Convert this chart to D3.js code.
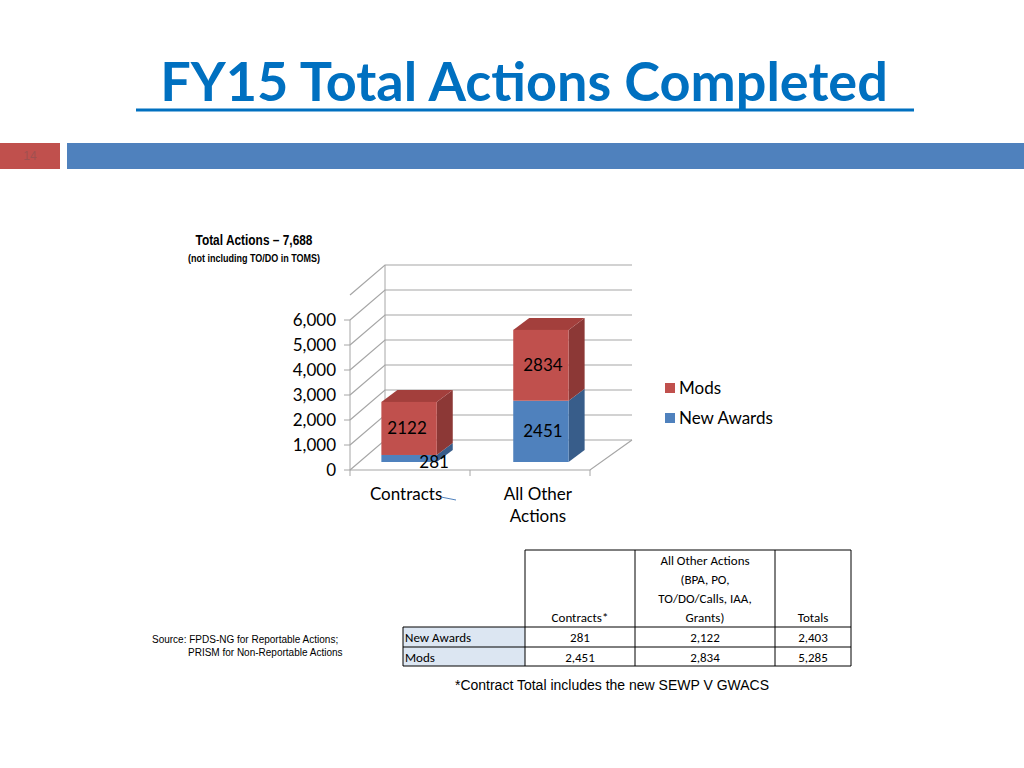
<!DOCTYPE html>
<html><head><meta charset="utf-8">
<script src="https://cdn.jsdelivr.net/npm/d3@7"></script>
<style>body{margin:0;background:#fff}</style>
</head><body>
<svg id="c" width="1024" height="768"></svg>
<script>
const categories = ["Contracts", "All Other\nActions"];
const newAwards = [281, 2451];
const mods = [2122, 2834];
const yTicks = [0, 1000, 2000, 3000, 4000, 5000, 6000];
const seriesNames = ["Mods", "New Awards"];
const tableHeaders = ["Contracts*", "All Other Actions\n(BPA, PO,\nTO/DO/Calls, IAA,\nGrants)", "Totals"];
const tableRows = [["New Awards", "281", "2,122", "2,403"], ["Mods", "2,451", "2,834", "5,285"]];

const svg = d3.select("#c");
const font = "'Gill Sans MT', Lato, 'Open Sans', sans-serif";

// title and banner
svg.append("text").attr("x", 524).attr("y", 101).attr("text-anchor", "middle")
  .attr("font-family", "Lato, sans-serif").attr("font-weight", 700).attr("font-size", 54)
  .attr("fill", "#0070c0").text("FY15 Total Actions Completed");
svg.append("line").attr("x1", 136).attr("x2", 914).attr("y1", 110).attr("y2", 110)
  .attr("stroke", "#0070c0").attr("stroke-width", 3);
svg.append("rect").attr("x", 0).attr("y", 143).attr("width", 60).attr("height", 26).attr("fill", "#c0504d");
svg.append("rect").attr("x", 67).attr("y", 143).attr("width", 957).attr("height", 26).attr("fill", "#4f81bd");
svg.append("text").attr("x", 30).attr("y", 160).attr("text-anchor", "middle").attr("font-size", 12)
  .attr("font-family", "Arial").attr("fill", "#a05050").text("14");

// chart subtitle
svg.append("text").attr("x", 254).attr("y", 245).attr("text-anchor", "middle").attr("font-family", "'Liberation Sans Narrow', Arial")
  .attr("font-weight", 700).attr("font-size", 14).attr("transform", "translate(254,245) scale(0.85,1) translate(-254,-245)")
  .text("Total Actions \u2013 7,688");
svg.append("text").attr("x", 254).attr("y", 262).attr("text-anchor", "middle").attr("font-family", "Arial")
  .attr("font-weight", 700).attr("font-size", 10).attr("transform", "translate(254,262) scale(0.9,1) translate(-254,-262)")
  .text("(not including TO/DO in TOMS)");

const y = d3.scaleLinear().domain([0, 6000]).range([470, 320]);
const x = d3.scaleBand().domain(categories).range([350, 590]).paddingInner(0.58).paddingOuter(0.2);
const dx = 35, dy = -30, bdx = 16, bdy = -12;
const g = svg.append("g");

// back wall gridlines and side wall
const gridVals = yTicks.concat([7000]);
gridVals.forEach(v => {
  const yy = y(v);
  g.append("path").attr("d", `M350,${yy}L${350+dx},${yy+dy}L632,${yy+dy}`)
    .attr("fill", "none").attr("stroke", "#a6a6a6").attr("stroke-width", 1.2);
});
g.append("path").attr("d", `M${350+dx},${y(0)+dy}L${350+dx},${y(7000)+dy}`).attr("stroke", "#a6a6a6").attr("fill", "none");
// floor
g.append("path").attr("d", `M350,${y(0)}L590,${y(0)}L632,${y(0)+dy}`).attr("fill", "none").attr("stroke", "#a6a6a6").attr("stroke-width", 1.2);
g.append("line").attr("x1", 350).attr("x2", 350).attr("y1", y(0)).attr("y2", y(6000)).attr("stroke", "#a6a6a6");
yTicks.forEach(v => g.append("line").attr("x1", 344).attr("x2", 350).attr("y1", y(v)).attr("y2", y(v)).attr("stroke", "#a6a6a6"));
[350, 470, 590].forEach(xx => g.append("line").attr("x1", xx).attr("x2", xx).attr("y1", 470).attr("y2", 476).attr("stroke", "#a6a6a6"));
g.selectAll(".yt").data(yTicks).join("text").attr("x", 336).attr("y", d => y(d) + 6)
  .attr("text-anchor", "end").attr("font-family", font).attr("font-size", 17).text(d3.format(","));

// bars
function box(x0, v0, v1, front, side, top) {
  const w = x.bandwidth(), yb = y(v0) - 8, yt = y(v1) - 8;
  g.append("path").attr("d", `M${x0+w},${yb}L${x0+w+bdx},${yb+bdy}L${x0+w+bdx},${yt+bdy}L${x0+w},${yt}Z`).attr("fill", side);
  if (top) g.append("path").attr("d", `M${x0},${yt}L${x0+bdx},${yt+bdy}L${x0+w+bdx},${yt+bdy}L${x0+w},${yt}Z`).attr("fill", top);
  g.append("rect").attr("x", x0).attr("y", yt).attr("width", w).attr("height", yb - yt).attr("fill", front);
}
categories.forEach((c, i) => {
  const x0 = x(c) + 5;
  box(x0, 0, newAwards[i], "#4f81bd", "#385d8a", null);
  box(x0, newAwards[i], newAwards[i] + mods[i], "#c0504d", "#8c3836", "#a33f3c");
});
// value labels
const lab = (t, xx, yy) => g.append("text").attr("x", xx).attr("y", yy).attr("text-anchor", "middle")
  .attr("font-family", font).attr("font-size", 17).text(t);
categories.forEach((c, i) => {
  const cx = x(c) + 5 + x.bandwidth() / 2;
  const ybMid = (y(newAwards[i]) + y(newAwards[i] + mods[i])) / 2 - 8;
  if (i === 0) {
    lab(mods[i], cx - 2, 434);
    lab(newAwards[i], cx + 25, 468);
  } else {
    lab(mods[i], cx + 2, ybMid + 6);
    lab(newAwards[i], cx + 2, (y(0) + y(newAwards[i])) / 2 - 2);
  }
});
// category labels
categories.forEach(c => {
  const lines = c.split("\n");
  lines.forEach((l, k) => lab(l, x(c) + x.bandwidth() / 2 + 2, 500 + k * 22));
});
g.append("path").attr("d", "M441,497L456,500").attr("stroke", "#4f81bd").attr("fill", "none");

// legend
seriesNames.forEach((s, i) => {
  const ly = 389 + i * 30;
  svg.append("rect").attr("x", 665).attr("y", ly - 6).attr("width", 10).attr("height", 10)
    .attr("fill", i === 0 ? "#c0504d" : "#4f81bd");
  svg.append("text").attr("x", 679).attr("y", ly + 5).attr("font-family", font).attr("font-size", 17).text(s);
});

// source
svg.append("text").attr("x", 152).attr("y", 643).attr("font-family", "'Liberation Sans Narrow', Arial").attr("font-size", 10).text("Source:  FPDS-NG for Reportable Actions;");
svg.append("text").attr("x", 188).attr("y", 656).attr("font-family", "'Liberation Sans Narrow', Arial").attr("font-size", 10).text("PRISM for Non-Reportable Actions");

// table
const cols = [403, 525, 635, 775, 851];
const rowsY = [550, 627, 647, 666];
const tf = "Calibri, Carlito, 'Open Sans', sans-serif";
const tg = svg.append("g").attr("font-family", tf).attr("font-size", 13);
tableRows.forEach((r, i) => {
  tg.append("rect").attr("x", cols[0]).attr("y", rowsY[i + 1]).attr("width", cols[1] - cols[0]).attr("height", rowsY[i + 2] - rowsY[i + 1]).attr("fill", "#dce6f2");
  r.forEach((t, j) => {
    tg.append("text").attr("x", j === 0 ? cols[0] + 2 : (cols[j] + cols[j + 1]) / 2).attr("y", rowsY[i + 1] + 15)
      .attr("text-anchor", j === 0 ? "start" : "middle").text(t);
  });
});
tableHeaders.forEach((h, j) => {
  const ls = h.split("\n");
  ls.forEach((l, k) => tg.append("text").attr("x", (cols[j + 1] + cols[j + 2]) / 2)
    .attr("y", rowsY[1] - 5 - (ls.length - 1 - k) * 19).attr("text-anchor", "middle").text(l));
});
const st = { stroke: "#000", w: 1 };
cols.slice(1).forEach(cx => tg.append("line").attr("x1", cx).attr("x2", cx).attr("y1", rowsY[0]).attr("y2", rowsY[3]).attr("stroke", "#000"));
tg.append("line").attr("x1", cols[0]).attr("x2", cols[0]).attr("y1", rowsY[1]).attr("y2", rowsY[3]).attr("stroke", "#000");
tg.append("line").attr("x1", cols[1]).attr("x2", cols[4]).attr("y1", rowsY[0]).attr("y2", rowsY[0]).attr("stroke", "#000");
rowsY.slice(1).forEach(ry => tg.append("line").attr("x1", cols[0]).attr("x2", cols[4]).attr("y1", ry).attr("y2", ry).attr("stroke", "#000"));
svg.append("text").attr("x", 612).attr("y", 690).attr("text-anchor", "middle").attr("font-family", "'Liberation Sans Narrow', Arial")
  .attr("font-size", 14).text("*Contract Total includes the new SEWP V GWACS");
</script>
</body></html>
